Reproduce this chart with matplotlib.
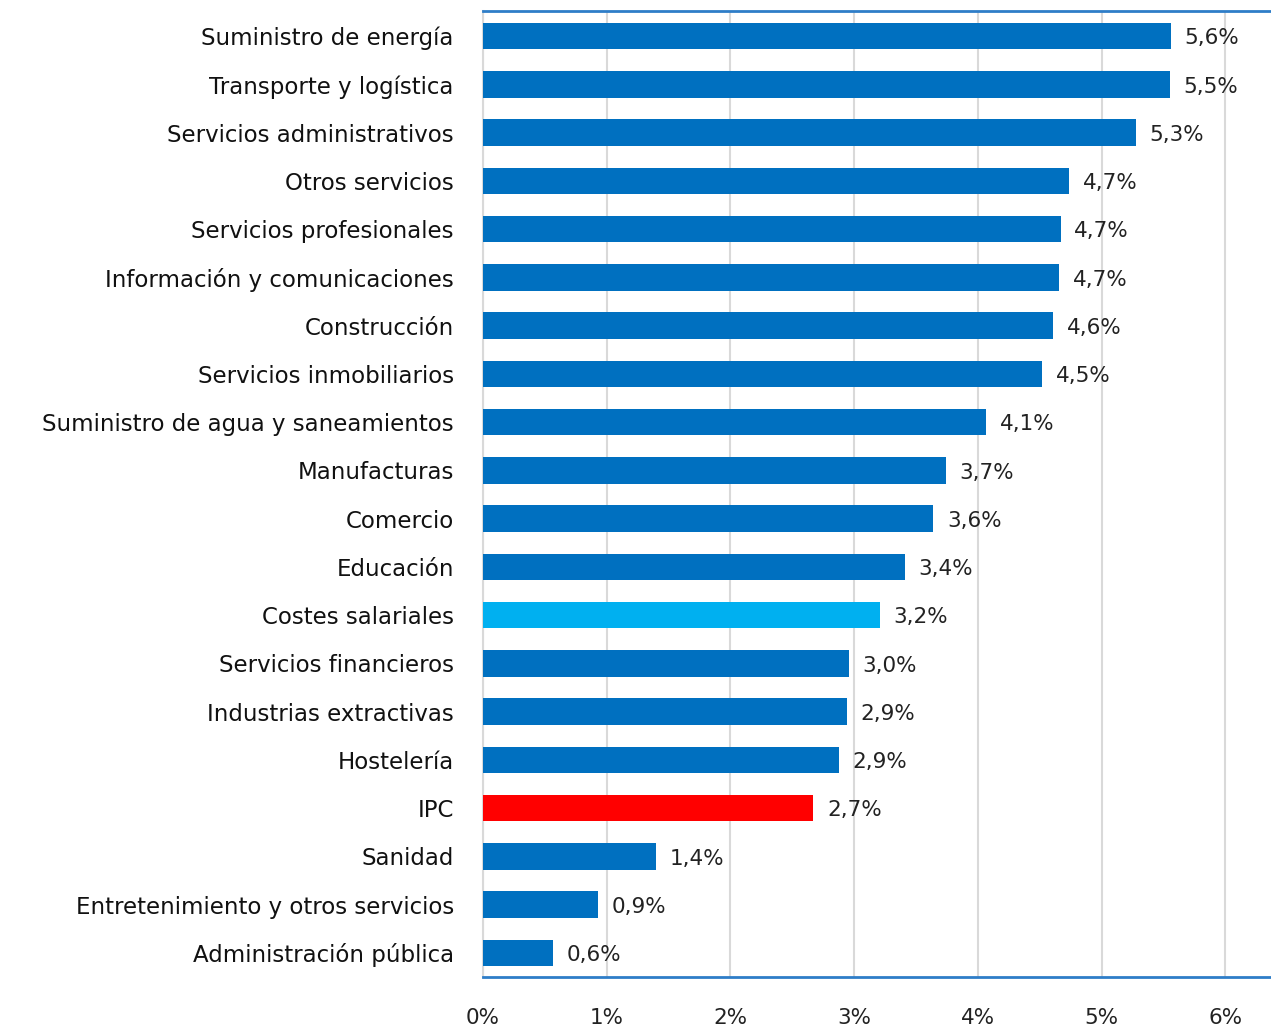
import matplotlib.pyplot as plt
from matplotlib.ticker import FuncFormatter

categories = [
    "Suministro de energía",
    "Transporte y logística",
    "Servicios administrativos",
    "Otros servicios",
    "Servicios profesionales",
    "Información y comunicaciones",
    "Construcción",
    "Servicios inmobiliarios",
    "Suministro de agua y saneamientos",
    "Manufacturas",
    "Comercio",
    "Educación",
    "Costes salariales",
    "Servicios financieros",
    "Industrias extractivas",
    "Hostelería",
    "IPC",
    "Sanidad",
    "Entretenimiento y otros servicios",
    "Administración pública",
]
values = [5.56, 5.55, 5.28, 4.74, 4.67, 4.66, 4.61, 4.52, 4.07, 3.74,
          3.64, 3.41, 3.21, 2.96, 2.94, 2.88, 2.67, 1.40, 0.93, 0.57]
value_labels = ["5,6%", "5,5%", "5,3%", "4,7%", "4,7%", "4,7%", "4,6%", "4,5%",
                "4,1%", "3,7%", "3,6%", "3,4%", "3,2%", "3,0%", "2,9%", "2,9%",
                "2,7%", "1,4%", "0,9%", "0,6%"]
xticks = [0, 1, 2, 3, 4, 5, 6]

plt.rcParams['font.family'] = ['DejaVu Sans']

colors = []
for c in categories:
    if c == "Costes salariales":
        colors.append('#00B0F0')
    elif c == "IPC":
        colors.append('#FF0000')
    else:
        colors.append('#0070C0')

fig = plt.figure(figsize=(12.71, 10.26), dpi=100)
ax = fig.add_axes([0.380, 0.0478, 0.62, 0.9415])

y = list(range(len(categories)))
ax.barh(y, values, height=0.55, color=colors, zorder=3)
for yi, v, lab in zip(y, values, value_labels):
    ax.text(v + 0.11, yi + 0.05, lab, va='center', ha='left', fontsize=15.5, color='#222222')

ax.set_ylim(len(categories) - 0.5, -0.52)
ax.set_xlim(0, 6.37)
ax.set_xticks(xticks)
ax.xaxis.set_major_formatter(FuncFormatter(lambda v, p: f"{v:.0f}%"))
ax.set_yticks(y)
ax.set_yticklabels(categories)
ax.tick_params(axis='y', length=0, pad=21, labelsize=16.5, labelcolor='#111111')
ax.tick_params(axis='x', length=0, pad=22, labelsize=15.5, labelcolor='#222222')

ax.grid(axis='x', color='#D9D9D9', linewidth=1.5, zorder=0)
for s in ['top', 'bottom']:
    ax.spines[s].set_color('#2E7DC8')
    ax.spines[s].set_linewidth(2)
ax.spines['left'].set_color('#D9D9D9')
ax.spines['left'].set_linewidth(1.5)
ax.spines['right'].set_visible(False)

fig.savefig('out.png', dpi=100)
